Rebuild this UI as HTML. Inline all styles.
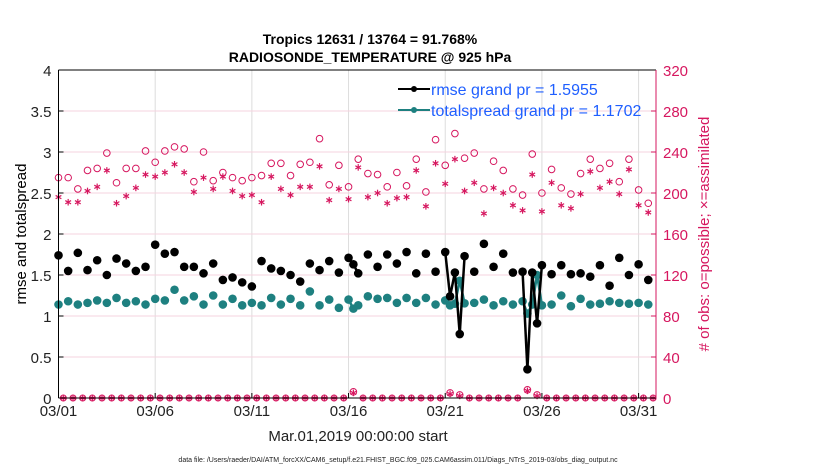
<!DOCTYPE html>
<html><head><meta charset="utf-8"><style>
body{margin:0;background:#fff;}
svg{display:block;font-family:"Liberation Sans",sans-serif;}
</style></head><body>
<svg id="chart" width="830" height="470">
<text x="370" y="44" text-anchor="middle" font-size="14" font-weight="bold">Tropics 12631 / 13764 = 91.768%</text>
<text x="370" y="62" text-anchor="middle" font-size="14" font-weight="bold">RADIOSONDE_TEMPERATURE @ 925 hPa</text>
<g id="grid"></g>
<g id="marks"></g>
<g id="axes"></g>
<text transform="translate(26,234) rotate(-90)" text-anchor="middle" font-size="15">rmse and totalspread</text>
<text transform="translate(709,234) rotate(-90)" text-anchor="middle" font-size="15" fill="#d6175f"># of obs: o=possible; ×=assimilated</text>
<text x="358" y="441" text-anchor="middle" font-size="15" fill="#222">Mar.01,2019 00:00:00 start</text>
<text x="398" y="462" text-anchor="middle" font-size="7" fill="#222">data file: /Users/raeder/DAI/ATM_forcXX/CAM6_setup/f.e21.FHIST_BGC.f09_025.CAM6assim.011/Diags_NTrS_2019-03/obs_diag_output.nc</text>
<g id="legend">
<line x1="398" y1="89" x2="430" y2="89" stroke="#000" stroke-width="2"/>
<circle cx="414" cy="89" r="3" fill="#000"/>
<text x="431" y="95" font-size="16" fill="#1f5fff">rmse grand pr = 1.5955</text>
<line x1="398" y1="110" x2="430" y2="110" stroke="#1e8080" stroke-width="2"/>
<circle cx="414" cy="110" r="3" fill="#1e8080"/>
<text x="431" y="116" font-size="16" fill="#1f5fff">totalspread grand pr = 1.1702</text>
</g>
</svg>
<script>
const times = [0,0.5,1,1.5,2,2.5,3,3.5,4,4.5,5,5.5,6,6.5,7,7.5,8,8.5,9,9.5,10,10.5,11,11.5,12,12.5,13,13.5,14,14.5,15,15.25,15.5,
16,16.5,17,17.5,18,18.5,19,19.5,20,20.25,20.5,20.75,21,21.5,22,22.5,23,23.5,24,24.25,24.5,24.75,25,25.5,26,26.5,27,27.5,28,28.5,29,29.5,30,30.5];
const rmse = [1.74,1.55,1.77,1.56,1.68,1.5,1.70,1.64,1.55,1.60,1.87,1.76,1.78,1.60,1.60,1.52,1.64,1.44,1.47,1.41,1.36,1.67,1.58,1.55,1.50,1.42,1.64,1.56,1.67,1.53,1.71,1.63,1.52,
1.75,1.60,1.75,1.64,1.78,1.52,1.76,1.54,1.78,1.24,1.53,0.78,1.73,1.54,1.88,1.60,1.76,1.53,1.54,0.35,1.53,0.91,1.62,1.51,1.62,1.51,1.52,1.48,1.62,1.37,1.71,1.50,1.63,1.44];
const spread = [1.14,1.18,1.14,1.16,1.19,1.16,1.22,1.16,1.18,1.14,1.21,1.19,1.32,1.19,1.24,1.14,1.25,1.14,1.21,1.13,1.16,1.13,1.22,1.14,1.21,1.13,1.30,1.13,1.20,1.10,1.20,1.09,1.13,
1.24,1.21,1.22,1.16,1.22,1.16,1.22,1.14,1.19,1.13,1.15,1.43,1.155,1.16,1.20,1.13,1.18,1.14,1.18,1.03,1.14,1.50,1.13,1.14,1.25,1.12,1.21,1.14,1.15,1.18,1.16,1.15,1.16,1.14];
const possible = [215,215,204,222,224,239,210,224,224,241,230,241,245,243,211,240,212,220,215,212,215,217,229,229,217,228,230,253,208,227,206,6,233,
219,218,206,220,207,233,201,252,227,5,258,3,234,239,204,231,222,204,198,8,238,3,200,223,205,199,219,233,224,229,211,233,203,190];
const assimilated = [196,191,191,202,206,222,190,197,205,218,216,220,228,220,201,215,204,216,202,197,198,191,216,204,198,206,206,226,193,204,194,5,225,
196,200,190,195,196,222,187,229,209,4,233,2,202,210,180,205,200,188,183,7,218,2,182,210,188,185,199,221,205,211,199,223,188,181];
const xTicks = [0,5,10,15,20,25,30];
const xTickLabels = ["03/01","03/06","03/11","03/16","03/21","03/26","03/31"];
const yTicks = [0,0.5,1,1.5,2,2.5,3,3.5,4];
const yTickLabels = ["0","0.5","1","1.5","2","2.5","3","3.5","4"];
const y2Ticks = [0,40,80,120,160,200,240,280,320];

const L=58.5,R=656,T=70,B=398, XMAX=30.9;
const xs = d => L + d/XMAX*(R-L);
const ys = v => B - v/4*(B-T);
const ys2 = c => B - c/320*(B-T);
const NS='http://www.w3.org/2000/svg';
function mk(tag, attrs, parent){const e=document.createElementNS(NS,tag);for(const k in attrs)e.setAttribute(k,attrs[k]);parent.appendChild(e);return e;}
const grid=document.getElementById('grid'), marks=document.getElementById('marks'), axes=document.getElementById('axes');
const CR='#d6175f', TL='#1e8080';

xTicks.forEach((t,i)=>{
  const g=mk('line',{x1:xs(t),x2:xs(t),y1:T,y2:B,stroke:'#dcdcdc','stroke-width':1},grid);
  
  
  mk('line',{x1:xs(t),x2:xs(t),y1:B,y2:B-5,stroke:'#000'},axes);
  const tx=mk('text',{x:xs(t),y:B+18,'text-anchor':'middle','font-size':15,fill:'#222'},axes);
  tx.textContent=xTickLabels[i];
  
  
});
yTicks.forEach((t,i)=>{
  if(t>0&&t<4){const g=mk('line',{x1:L,x2:R,y1:ys(t),y2:ys(t),stroke:'#f6d3df','stroke-width':1},grid);
  
  }
  mk('line',{x1:L,x2:L+5,y1:ys(t),y2:ys(t),stroke:'#000'},axes);
  const tx=mk('text',{x:L-7,y:ys(t)+6,'text-anchor':'end','font-size':15,fill:'#222'},axes);
  tx.textContent=yTickLabels[i];
  
  
});
y2Ticks.forEach(t=>{
  mk('line',{x1:R,x2:R-5,y1:ys2(t),y2:ys2(t),stroke:CR},axes);
  const tx=mk('text',{x:R+7,y:ys2(t)+6,'font-size':15,fill:CR},axes);
  tx.textContent=String(t);
  
  
});
mk('line',{x1:L,x2:R,y1:T,y2:T,stroke:'#000'},axes);
mk('line',{x1:L,x2:R,y1:B,y2:B,stroke:'#000'},axes);
mk('line',{x1:L,x2:L,y1:T,y2:B,stroke:'#000'},axes);
mk('line',{x1:R,x2:R,y1:T,y2:B,stroke:CR},axes);

function star(x,y,parent,name){
  const g=mk('g',{},parent);
  
  
  const s=3.3;
  [[0,-s,0,s],[-s*0.87,-s/2,s*0.87,s/2],[-s*0.87,s/2,s*0.87,-s/2]].forEach(p=>mk('line',{x1:x+p[0],y1:y+p[1],x2:x+p[2],y2:y+p[3],stroke:CR,'stroke-width':1.2},g));
}
for(let k=0;k<=123;k++){
  const d=k*0.25;
  if(times.some(t=>Math.abs(t-d)<0.01)) continue;
  const c=mk('circle',{cx:xs(d),cy:ys2(0),r:3,fill:'none',stroke:CR,'stroke-width':1},marks);
  
  
  star(xs(d),ys2(0),marks,'assimilated-zero-marker');
}
times.forEach((t,i)=>{
  const c=mk('circle',{cx:xs(t),cy:ys2(possible[i]),r:3.3,fill:'none',stroke:CR,'stroke-width':1},marks);
  
  
  star(xs(t),ys2(assimilated[i]),marks,'assimilated-count-marker');
});
function series(vals,color,name){
  for(let i=1;i<times.length;i++){
    if(times[i]-times[i-1]<0.3){
      const l=mk('line',{x1:xs(times[i-1]),y1:ys(vals[i-1]),x2:xs(times[i]),y2:ys(vals[i]),stroke:color,'stroke-width':2.5},marks);
      
      
    }
  }
  times.forEach((t,i)=>{
    const c=mk('circle',{cx:xs(t),cy:ys(vals[i]),r:4.3,fill:color},marks);
    
    
  });
}
series(spread,TL,'totalspread');
series(rmse,'#000','rmse');
</script>
</body></html>
